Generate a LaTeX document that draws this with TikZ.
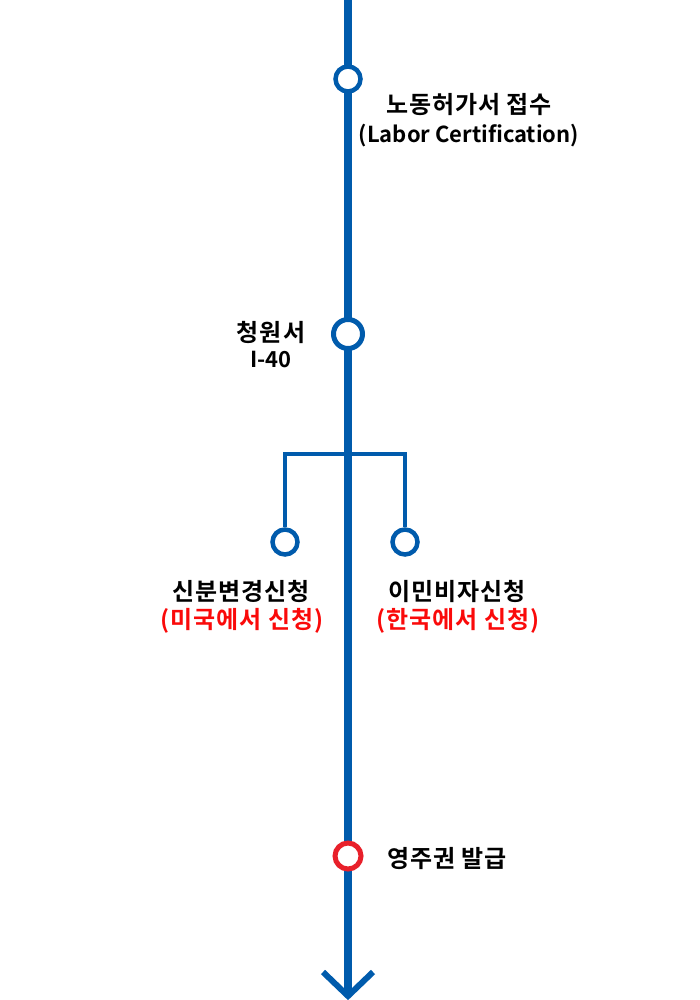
\documentclass[tikz,border=0pt]{standalone}
\usepackage{fontspec}
\setmainfont{Noto Sans CJK KR}[BoldFont={Noto Sans CJK KR Bold}]
\newfontfamily\krwide{Noto Sans CJK KR}[BoldFont={Noto Sans CJK KR Bold}, LetterSpace=4]
\definecolor{lineblue}{RGB}{0,91,172}
\definecolor{stopred}{RGB}{232,32,42}
\definecolor{textred}{RGB}{250,10,10}
\tikzset{
  mainline/.style={draw=lineblue, line width=8pt},
  branch/.style={draw=lineblue, line width=4.5pt},
  stop/.style={circle, draw=lineblue, fill=white, inner sep=0pt},
  lbl/.style={font=\fontsize{22}{26}\selectfont\bfseries, text=black, inner sep=0pt},
  krlbl/.style={font=\krwide\fontsize{24}{28}\selectfont\bfseries, text=black, inner sep=0pt},
  redlbl/.style={krlbl, text=textred},
}
\begin{document}
\begin{tikzpicture}[x=1pt,y=-1pt]
\useasboundingbox (0,0) rectangle (700,1000);
\coordinate (top) at (348,0);
\coordinate (bottom) at (348,994);
\coordinate (tipL) at (323,972);
\coordinate (tipR) at (373,972);
\coordinate (tip) at (348,996);
\coordinate (j) at (348,454);
\draw[mainline] (top) -- (bottom);
\draw[draw=lineblue, line width=6pt, line join=miter] (tipL) -- (tip) -- (tipR);
% stops
\node[stop, minimum size=25pt, line width=4.5pt] (s1) at (348,79) {};
\node[stop, minimum size=29pt, line width=5pt] (s2) at (348,334) {};
\node[stop, minimum size=25pt, line width=4.5pt] (sl) at (285,542) {};
\node[stop, minimum size=25pt, line width=4.5pt] (sr) at (405,542) {};
\node[stop, draw=stopred, minimum size=26pt, line width=5pt] (s4) at (348,856) {};
\draw[branch] (sl.north) |- (j) -| (sr.north);
% labels
\node[krlbl] (t1a) at (469,105) {노동허가서 접수};
\node[lbl] (t1b) at (469,136) {(Labor Certification)};
\node[krlbl] (t2a) at (271,332) {청원서};
\node[lbl] (t2b) at (271,360) {I-40};
\node[krlbl] (t3a) at (241,591) {신분변경신청};
\node[redlbl] (t3b) at (242,621) {(미국에서 신청)};
\node[krlbl] (t4a) at (457,591) {이민비자신청};
\node[redlbl] (t4b) at (458,621) {(한국에서 신청)};
\node[krlbl] (t5) at (447,859) {영주권 발급};
\end{tikzpicture}
\end{document}
